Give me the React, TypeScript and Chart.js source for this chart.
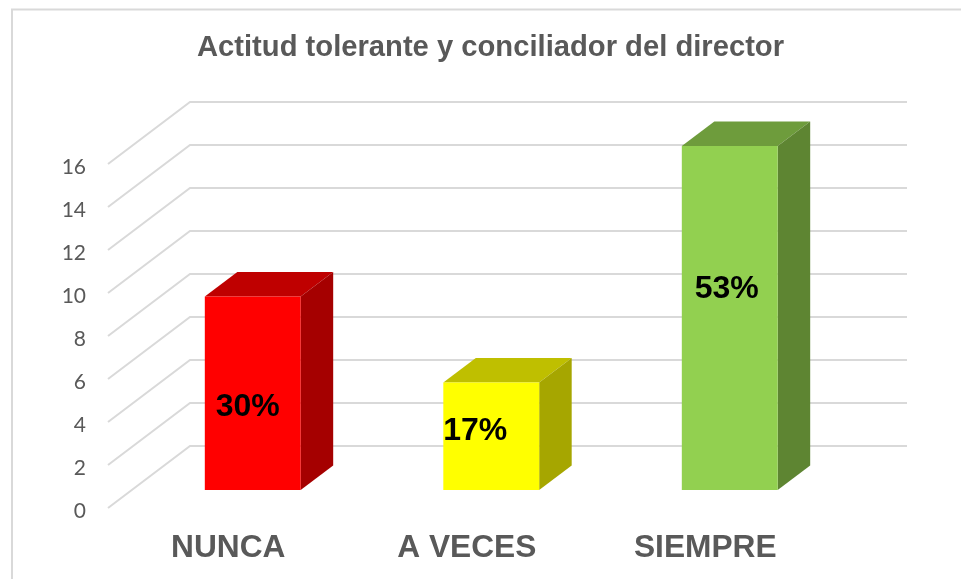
import React, { useEffect, useRef } from "react";
import { Chart, registerables } from "chart.js";

Chart.register(...registerables);

const categories = ["NUNCA", "A VECES", "SIEMPRE"];
const values = [9, 5, 16];
const percentLabels = ["30%", "17%", "53%"];
const titleText = "Actitud tolerante y conciliador del director";

const frontColors = ["#FF0000", "#FFFF00", "#92D050"];
const topColors = ["#BF0000", "#BFBF00", "#6E9C3C"];
const sideColors = ["#A50000", "#A6A600", "#5E8532"];

const GRID = "#D9D9D9";
const TEXT = "#595959";
const WALL_DX = 82;
const WALL_DY = -62;
const WALL_END_X = 907;
const BAR_SHIFT_X = 25.5;
const BAR_SHIFT_Y = -18;
const DEPTH_X = 32.5;
const DEPTH_Y = -24.5;
const labelNudges: [number, number][] = [
  [-5, 14],
  [-16, -5],
  [-3, -29],
];

const frame = {
  id: "frame",
  beforeDraw(chart: any) {
    const { ctx } = chart;
    ctx.save();
    ctx.strokeStyle = GRID;
    ctx.lineWidth = 2;
    ctx.beginPath();
    ctx.moveTo(12, 579);
    ctx.lineTo(12, 9.5);
    ctx.lineTo(961, 9.5);
    ctx.stroke();
    ctx.restore();
  },
};

const perspective = {
  id: "perspective",
  beforeDatasetsDraw(chart: any) {
    const { ctx, scales, chartArea } = chart;
    ctx.save();
    ctx.strokeStyle = GRID;
    ctx.lineWidth = 2;
    for (const t of scales.y.ticks) {
      const py = scales.y.getPixelForValue(t.value);
      ctx.beginPath();
      ctx.moveTo(chartArea.left, py);
      ctx.lineTo(chartArea.left + WALL_DX, py + WALL_DY);
      ctx.lineTo(WALL_END_X, py + WALL_DY);
      ctx.stroke();
    }
    ctx.restore();

    ctx.save();
    ctx.translate(BAR_SHIFT_X, BAR_SHIFT_Y);
    const bars = chart.getDatasetMeta(0).data;
    bars.forEach((bar: any, i: number) => {
      const half = bar.width / 2;
      const l = bar.x - half;
      const r = bar.x + half;
      const t = bar.y;
      const b = bar.base;
      ctx.fillStyle = topColors[i];
      ctx.beginPath();
      ctx.moveTo(l, t);
      ctx.lineTo(l + DEPTH_X, t + DEPTH_Y);
      ctx.lineTo(r + DEPTH_X, t + DEPTH_Y);
      ctx.lineTo(r, t);
      ctx.closePath();
      ctx.fill();
      ctx.fillStyle = sideColors[i];
      ctx.beginPath();
      ctx.moveTo(r, t);
      ctx.lineTo(r + DEPTH_X, t + DEPTH_Y);
      ctx.lineTo(r + DEPTH_X, b + DEPTH_Y);
      ctx.lineTo(r, b);
      ctx.closePath();
      ctx.fill();
    });
  },
  afterDatasetsDraw(chart: any) {
    const { ctx } = chart;
    const bars = chart.getDatasetMeta(0).data;
    ctx.fillStyle = "#000000";
    ctx.font = "bold 32px 'Liberation Sans', Arial, sans-serif";
    ctx.textAlign = "center";
    ctx.textBaseline = "middle";
    bars.forEach((bar: any, i: number) => {
      const [nx, ny] = labelNudges[i];
      ctx.fillText(percentLabels[i], bar.x + nx, (bar.y + bar.base) / 2 + ny);
    });
    ctx.restore();
  },
};

export default function App() {
  const ref = useRef<HTMLCanvasElement | null>(null);
  useEffect(() => {
    document.body.style.margin = "0";
    document.body.style.background = "#FFFFFF";
    const chart = new Chart(ref.current as HTMLCanvasElement, {
      type: "bar",
      data: {
        labels: categories,
        datasets: [
          {
            label: "Actitud",
            data: values,
            backgroundColor: frontColors,
            barPercentage: 0.402,
            categoryPercentage: 1,
          },
        ],
      },
      plugins: [frame, perspective],
      options: {
        responsive: false,
        animation: false,
        layout: { padding: { left: 20, right: 0, top: 0, bottom: 0 } },
        plugins: {
          legend: { display: false },
          tooltip: { enabled: false },
          title: {
            display: true,
            text: titleText,
            color: TEXT,
            font: { family: "'Liberation Sans', Arial, sans-serif", size: 29.2, weight: "bold", lineHeight: 1.2 },
            padding: { top: 30, bottom: 99 },
          },
        },
        scales: {
          x: {
            grid: { display: false },
            border: { display: false },
            afterFit(scale: any) {
              scale.height = 71;
            },
            ticks: {
              color: TEXT,
              padding: 13,
              labelOffset: 1,
              maxRotation: 0,
              font: { family: "'Liberation Sans', Arial, sans-serif", size: 31.7, weight: "bold" },
            },
          },
          y: {
            min: 0,
            max: 16,
            grid: { display: false },
            border: { display: false },
            afterFit(scale: any) {
              scale.width = 88;
            },
            ticks: {
              stepSize: 2,
              color: TEXT,
              padding: 14,
              labelOffset: 3,
              font: { family: "Lato, sans-serif", size: 21 },
            },
          },
          spacer: {
            position: "right",
            grid: { display: false },
            border: { display: false },
            ticks: { display: false },
            afterFit(scale: any) {
              scale.width = 137.5;
            },
          },
        },
      },
    } as any);
    return () => chart.destroy();
  }, []);
  return <canvas ref={ref} width={961} height={579} style={{ display: "block" }} />;
}
